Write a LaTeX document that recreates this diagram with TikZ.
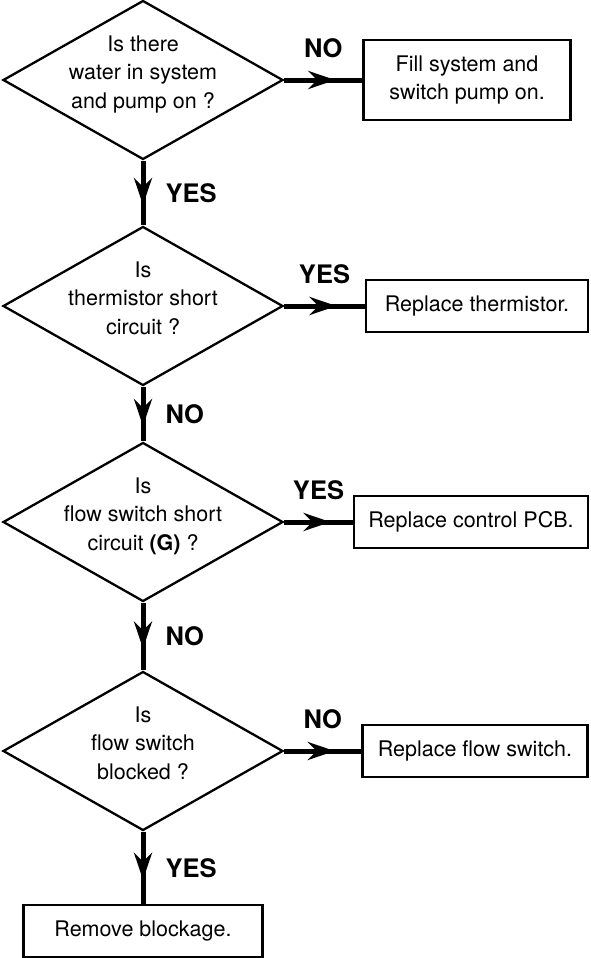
\documentclass[tikz,border=0pt]{standalone}
\usepackage{fontspec}
\setmainfont{TeX Gyre Heros}
\usetikzlibrary{shapes.geometric,arrows.meta,decorations.markings}

\begin{document}
\begin{tikzpicture}[x=1pt,y=1pt,
    test node/.style={diamond,draw,line width=2.3pt,aspect=1.76,minimum width=280pt,minimum height=159pt,
                      inner sep=-10pt,align=center,text depth=16pt,font=\fontsize{21.5}{28.5}\selectfont},
    fix node/.style={rectangle,draw,line width=2.3pt,minimum height=52pt,align=center,
                     font=\fontsize{21.5}{28}\selectfont},
    answer/.style={font=\fontsize{25.5}{26}\selectfont\bfseries,inner sep=0pt},
    flow/.style={line width=5pt,postaction={decorate},
                 decoration={markings,mark=at position 0.5 with {\arrow[xshift=12pt]{Stealth[length=27pt,width=18pt,inset=9pt]}}}}]
\useasboundingbox (0,0) rectangle (590,-958);
%%%%%
\node[test node] (q1) at (143,-80) {Is there\\water in system\\and pump on ?};
  \node[test node] (q2) [below of=q1, node distance=226pt] {Is\\thermistor short\\circuit ?};
  \node[test node] (q3) [below of=q2, node distance=216pt] {Is\\flow switch short\\circuit \textbf{(G)} ?};
  \node[test node] (q4) [below of=q3, node distance=229pt] {Is\\flow switch\\blocked ?};
%%%%%
\node[fix node, minimum width=207pt, minimum height=80pt] (a1) [right of=q1, node distance=324pt] {Fill system and\\switch pump on.};
  \node[fix node, minimum width=222pt] (a2) [right of=q2, node distance=334pt] {Replace thermistor.};
  \node[fix node, minimum width=234pt] (a3) [right of=q3, node distance=328pt] {Replace control PCB.};
  \node[fix node, minimum width=225pt] (a4) [right of=q4, node distance=332pt] {Replace flow switch.};
  \node[fix node, minimum width=239pt] (a5) [below of=q4, node distance=180pt] {Remove blockage.};
  %%%%%%%
  \path[every edge/.append style={flow}]
    (q1) %%%%%%%%%%%%%
        edge node[midway,above=20pt,answer] {NO} (a1)
        edge node[midway,right=20pt,answer] {YES} (q2)
    (q2) %%%%%%%%%%%%%
        edge node[midway,above=20pt,answer] {YES} (a2)
        edge node[midway,right=20pt,answer] {NO} (q3)
    (q3) %%%%%%%%%%%%%
        edge node[midway,above=20pt,answer] {YES} (a3)
        edge node[midway,right=20pt,answer] {NO} (q4)
    (q4) %%%%%%%%%%%%%
        edge node[midway,above=20pt,answer] {NO} (a4)
        edge node[midway,right=20pt,answer] {YES} (a5);
\end{tikzpicture}
\end{document}
